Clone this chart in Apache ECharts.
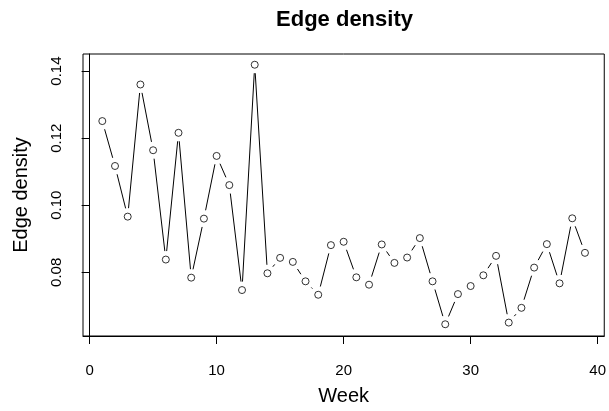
<!DOCTYPE html>
<html>
<head>
<meta charset="utf-8">
<script src="https://cdn.jsdelivr.net/npm/echarts@6/dist/echarts.min.js"></script>
<style>html,body{margin:0;padding:0;background:#fff;}#c{width:609px;height:411px;}</style>
</head>
<body>
<div id="c"></div>
<script>
var weeks = [1,2,3,4,5,6,7,8,9,10,11,12,13,14,15,16,17,18,19,20,21,22,23,24,25,26,27,28,29,30,31,32,33,34,35,36,37,38,39];
var density = [0.1251,0.1117,0.0966,0.1360,0.1164,0.0838,0.1216,0.0784,0.0960,0.1147,0.1060,0.0747,0.1419,0.0797,0.0843,0.0831,0.0773,0.0733,0.0881,0.0891,0.0785,0.0763,0.0883,0.0828,0.0844,0.0902,0.0773,0.0645,0.0735,0.0759,0.0791,0.0849,0.0650,0.0694,0.0814,0.0884,0.0767,0.0961,0.0858];
var xTicks = [0,10,20,30,40];
var yTicks = [0.08,0.10,0.12,0.14];

var FONT = 'Liberation Sans, Arial, Helvetica, sans-serif';
var GAP = 8.5;

var points = weeks.map(function(w,i){ return [w, density[i]]; });
var segs = [];
for (var i = 0; i < weeks.length - 1; i++) {
  segs.push([weeks[i], density[i], weeks[i+1], density[i+1]]);
}

var chart = echarts.init(document.getElementById('c'), null, {renderer:'canvas'});
chart.setOption({
  backgroundColor: '#fff',
  animation: false,
  title: {
    text: 'Edge density',
    left: 344.5, top: 9, textAlign: 'center', padding: 0,
    textStyle: {fontFamily: FONT, fontWeight: 'bold', fontSize: 22, color: '#000'}
  },
  grid: {left: 83, top: 54, width: 523, height: 289, show: true, borderColor: '#000', borderWidth: 1, backgroundColor: 'transparent'},
  xAxis: {
    type: 'value', min: -0.52, max: 40.52,
    name: 'Week', nameLocation: 'middle', nameGap: 50,
    nameTextStyle: {fontFamily: FONT, fontSize: 20, color: '#000'},
    axisLine: {show: true, lineStyle: {color: '#000', width: 1}},
    axisTick: {show: true, length: 8, lineStyle: {color: '#000'}, customValues: xTicks},
    axisLabel: {fontFamily: FONT, fontSize: 15, color: '#000', margin: 27, customValues: xTicks, formatter: function(v){return String(v);}},
    splitLine: {show: false}
  },
  yAxis: {
    type: 'value', min: 0.0610, max: 0.1451,
    name: 'Edge density', nameLocation: 'middle', nameGap: 52, nameRotate: 90,
    nameTextStyle: {fontFamily: FONT, fontSize: 20, color: '#000'},
    axisLine: {show: true, lineStyle: {color: '#000', width: 1}},
    axisTick: {show: true, length: 8, lineStyle: {color: '#000'}, customValues: yTicks},
    axisLabel: {fontFamily: FONT, fontSize: 15, color: '#000', margin: 19, rotate: 90, customValues: yTicks, formatter: function(v){return v.toFixed(2);}},
    splitLine: {show: false}
  },
  series: [
    {
      type: 'custom',
      data: segs,
      encode: {x: [0,2], y: [1,3]},
      clip: false,
      renderItem: function(params, api) {
        var p1 = api.coord([api.value(0), api.value(1)]);
        var p2 = api.coord([api.value(2), api.value(3)]);
        var dx = p2[0]-p1[0], dy = p2[1]-p1[1];
        var d = Math.sqrt(dx*dx+dy*dy);
        if (d <= 2*GAP) return null;
        var ux = dx/d, uy = dy/d;
        return {
          type: 'line',
          shape: {x1: p1[0]+ux*GAP, y1: p1[1]+uy*GAP, x2: p2[0]-ux*GAP, y2: p2[1]-uy*GAP},
          style: {stroke: '#000', lineWidth: 1}
        };
      }
    },
    {
      type: 'scatter',
      data: points,
      symbol: 'circle',
      symbolSize: 7,
      itemStyle: {color: '#fff', borderColor: '#000', borderWidth: 1},
      clip: false
    }
  ]
});
</script>
</body>
</html>
